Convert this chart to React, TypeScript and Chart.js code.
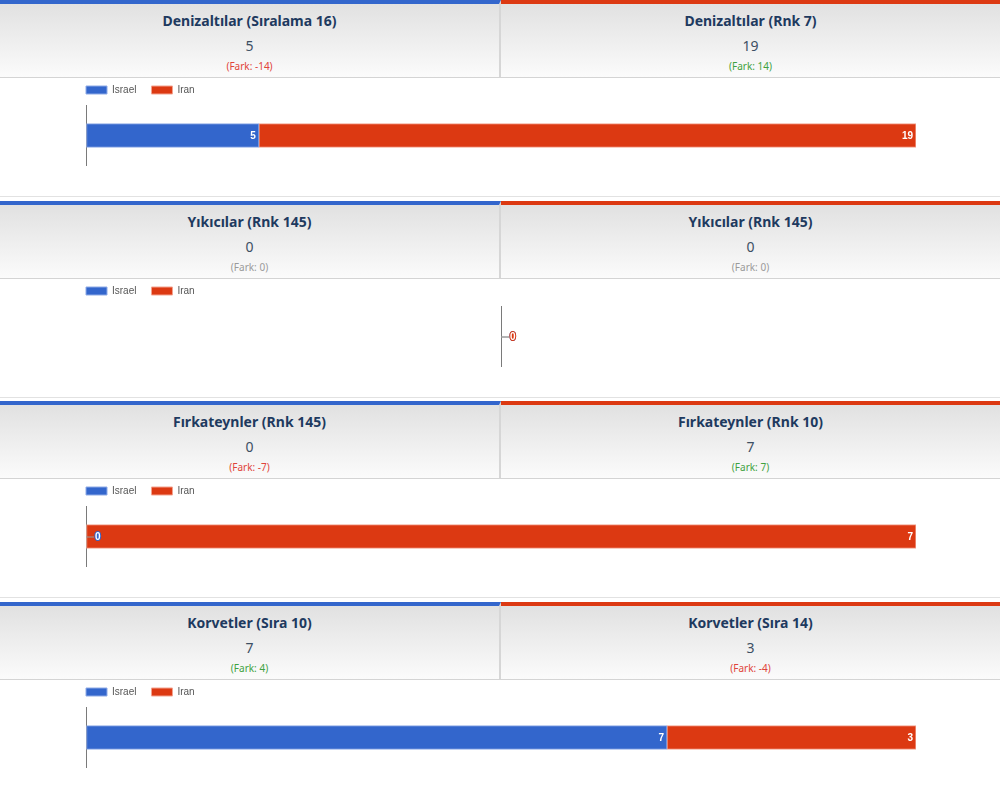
import React, { useEffect, useRef } from "react";
import { Chart, registerables } from "chart.js";

Chart.register(...registerables);

const seriesNames = ["Israel", "Iran"];
const seriesColors = ["#3366cc", "#dc3912"];
const categories = ["Denizaltılar", "Yıkıcılar", "Fırkateynler", "Korvetler"];
const israelValues = [5, 0, 0, 7];
const iranValues = [19, 0, 7, 3];
const israelRankLabels = ["Sıralama 16", "Rnk 145", "Rnk 145", "Sıra 10"];
const iranRankLabels = ["Rnk 7", "Rnk 145", "Rnk 10", "Sıra 14"];

const PANEL_H = 200.67;

function diffColor(d: number) {
  if (d > 0) return "#3fa23f";
  if (d < 0) return "#e0443a";
  return "#9a9a9a";
}

function HeaderHalf(props: { title: string; value: number; diff: number; color: string; left: boolean }) {
  const { title, value, diff, color, left } = props;
  return (
    <div
      style={{
        position: "relative",
        width: left ? 501 : 499,
        height: 77,
        boxSizing: "border-box",
        borderTop: `4px solid ${color}`,
        borderRight: left ? "2px solid #d6d6d6" : "none",
        background: "linear-gradient(#e1e1e1, #fbfbfb)",
        textAlign: "center",
        fontFamily: '"Noto Sans", "Open Sans", sans-serif',
      }}
    >
      <div style={{ position: "absolute", left: 0, right: 0, top: 7, lineHeight: "20px", fontSize: 14, fontWeight: 700, color: "#1e3a5f" }}>
        {title}
      </div>
      <div style={{ position: "absolute", left: 0, right: 0, top: 32, lineHeight: "20px", fontSize: 14, color: "#3d4f63" }}>
        {value}
      </div>
      <div style={{ position: "absolute", left: 0, right: 0, top: 55, lineHeight: "14px", fontSize: 10, color: diffColor(diff) }}>
        (Fark: {diff})
      </div>
    </div>
  );
}

function BarChart(props: { israel: number; iran: number; category: string }) {
  const ref = useRef<HTMLCanvasElement | null>(null);
  useEffect(() => {
    if (!ref.current) return;
    const raw = [props.israel, props.iran];
    const total = raw[0] + raw[1];
    const pct = raw.map((v) => (total > 0 ? (v / total) * 100 : 0));
    const labelPlugin = {
      id: "valueLabels",
      afterDatasetsDraw(chart: any) {
        const ctx = chart.ctx;
        chart.data.datasets.forEach((ds: any, di: number) => {
          const meta = chart.getDatasetMeta(di);
          meta.data.forEach((bar: any) => {
            const { x, y, base } = bar.getProps(["x", "y", "base"], true);
            const w = Math.abs(x - base);
            const text = String(raw[di]);
            ctx.save();
            ctx.font = 'bold 10px "Liberation Sans", Arial, sans-serif';
            ctx.textBaseline = "middle";
            if (w > 14) {
              ctx.fillStyle = "#ffffff";
              ctx.textAlign = "right";
              ctx.fillText(text, x - 3, y + 0.5);
            } else {
              ctx.strokeStyle = "#9a9a9a";
              ctx.lineWidth = 1;
              ctx.beginPath();
              ctx.moveTo(x, y + 0.5);
              ctx.lineTo(x + 8, y + 0.5);
              ctx.stroke();
              ctx.textAlign = "left";
              ctx.lineWidth = 2;
              ctx.strokeStyle = seriesColors[di];
              ctx.strokeText(text, x + 9, y + 0.5);
              ctx.fillStyle = "#ffffff";
              ctx.fillText(text, x + 9, y + 0.5);
            }
            ctx.restore();
          });
        });
      },
    };
    const chart = new Chart(ref.current, {
      type: "bar",
      data: {
        labels: [props.category],
        datasets: seriesNames.map((name, i) => ({
          label: name,
          data: [pct[i]],
          backgroundColor: seriesColors[i],
          borderColor: i === 0 ? "#8eaae6" : "#f3a38f",
          borderWidth: 1,
          borderSkipped: false,
          barThickness: 24,
        })),
      },
      options: {
        indexAxis: "y",
        animation: false,
        responsive: true,
        maintainAspectRatio: false,
        layout: { padding: { top: -8, left: 71, right: 84, bottom: 30 } },
        plugins: {
          tooltip: { enabled: false },
          legend: {
            position: "top",
            align: "start",
            labels: {
              boxWidth: 21,
              boxHeight: 8,
              padding: 15,
              color: "#555555",
              font: { family: '"Liberation Sans", Arial, sans-serif', size: 10 },
            },
          },
        },
        scales: {
          x: {
            stacked: true,
            min: total > 0 ? 0 : -1,
            max: total > 0 ? 100 : 1,
            beginAtZero: false,
            ticks: { display: false },
            border: { display: false },
            grid: {
              drawTicks: false,
              color: (c: any) => (c.tick && c.tick.value === 0 ? "#7a7a7a" : "rgba(0,0,0,0)"),
              lineWidth: 1,
            },
          },
          y: {
            stacked: true,
            ticks: { display: false },
            border: { display: false },
            grid: { display: false, drawTicks: false },
            afterFit: (s: any) => {
              s.width = 15;
            },
          },
        },
      },
      plugins: [labelPlugin],
    } as any);
    return () => chart.destroy();
  }, [props.israel, props.iran, props.category]);
  return (
    <div style={{ position: "relative", width: 1000, height: 118 }}>
      <canvas ref={ref} />
    </div>
  );
}

function Panel(props: { index: number }) {
  const i = props.index;
  const isr = israelValues[i];
  const irn = iranValues[i];
  return (
    <div style={{ position: "relative", width: 1000, height: PANEL_H, overflow: "hidden" }}>
      <div style={{ display: "flex", borderBottom: "1px solid #d4d4d4" }}>
        <HeaderHalf title={`${categories[i]} (${israelRankLabels[i]})`} value={isr} diff={isr - irn} color={seriesColors[0]} left={true} />
        <HeaderHalf title={`${categories[i]} (${iranRankLabels[i]})`} value={irn} diff={irn - isr} color={seriesColors[1]} left={false} />
      </div>
      <BarChart israel={isr} iran={irn} category={categories[i]} />
      <div style={{ width: 1000, height: 1, background: "#e2e2e2" }} />
    </div>
  );
}

export default function App() {
  useEffect(() => {
    document.body.style.margin = "0";
    document.body.style.background = "#ffffff";
  }, []);
  return (
    <div style={{ width: 1000, height: 796, overflow: "hidden", background: "#fff" }}>
      {categories.map((_, i) => (
        <Panel key={i} index={i} />
      ))}
    </div>
  );
}
